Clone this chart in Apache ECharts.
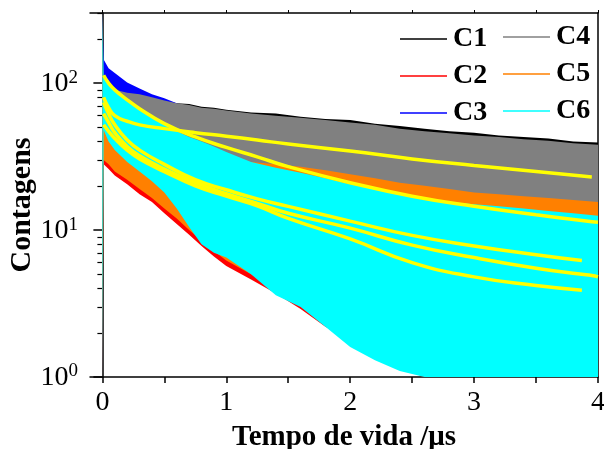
<!DOCTYPE html>
<html>
<head>
<meta charset="utf-8">
<script src="https://cdn.jsdelivr.net/npm/echarts@6/dist/echarts.min.js"></script>
<style>
  html, body { margin: 0; padding: 0; background: #fff; }
  #chart { width: 604px; height: 449px; }
</style>
</head>
<body>
<div id="chart"></div>
<script>
// time axis (µs) shared by the decay bands
var tempo = [0, 0.01, 0.05, 0.1, 0.2, 0.3, 0.4, 0.5, 0.6, 0.7, 0.8, 0.9, 1.0, 1.2, 1.4, 1.6, 1.8, 2.0, 2.2, 2.4, 2.6, 2.8, 3.0, 3.2, 3.4, 3.6, 3.8, 4.0];

// noisy counts drawn as upper / lower envelopes
var c1Alto  = [300, 100, 95, 90, 86, 84, 80, 76, 73, 72, 69, 68, 66, 63, 62, 59, 57, 56, 53, 51, 49, 47, 46, 44, 43, 42, 40, 39.5];
var c1Baixo = [1, 60, 55, 50, 45, 41, 38, 36, 34, 32, 31, 30, 29, 27, 25.5, 24, 22.5, 21, 20, 19, 18, 17, 16, 15, 14.5, 13.5, 12.5, 12];
var c2Alto  = [300, 45, 43, 40, 36, 33, 31, 29, 28, 27, 26, 25.5, 25, 24, 23, 22, 21, 20, 19, 18, 17, 16, 15.5, 15, 14.5, 14, 13.5, 13];
var c2Baixo = [1, 28, 26, 23.5, 20.5, 17.5, 15.5, 13, 11, 9.3, 7.8, 6.6, 5.7, 4.6, 3.7, 2.9, 2.2, 1.8, 1.45, 1.15, 1, 1, 1, 1, 1, 1, 1, 1];
var c3Alto  = [300, 145, 126, 117, 101, 92, 84, 79, 73, 64, 58, 54, 50, 44, 39, 35, 31, 28, 26, 24, 22, 21, 20, 19, 18.5, 18, 17.5, 17];
var c3Baixo = [1, 80, 72, 65, 55, 48, 42, 38, 34, 31, 28, 26, 24, 21, 18.5, 16.5, 15, 13.5, 12.5, 11.5, 10.5, 10, 9.5, 9, 8.5, 8, 7.6, 7.2];
var c4Alto  = [300, 100, 95, 90, 86, 84, 80, 76, 73, 71, 68, 67, 65, 62, 60, 58, 56, 54, 52, 49, 47, 45.5, 44, 43, 41.5, 40.5, 39, 38];
var c4Baixo = [1, 60, 55, 50, 45, 41, 38, 36, 34, 32, 31, 30, 29, 27, 25.5, 24, 22.5, 21, 20, 19, 18, 17, 16, 15, 14.5, 13.5, 12.5, 12];
var c5Alto  = [300, 55, 52, 48, 43, 40, 37.5, 35.5, 34, 33, 32, 31, 30, 29, 28, 27, 25.5, 24, 22.5, 21, 20, 19, 18, 17.5, 17, 16.5, 16, 15.5];
var c5Baixo = [1, 30, 28, 25, 22, 19, 16.5, 14, 12, 10, 8.5, 7.2, 6.2, 5, 4, 3.2, 2.5, 2, 1.6, 1.3, 1.1, 1, 1, 1, 1, 1, 1, 1];
var c6Alto  = [300, 110, 98, 88, 76, 66, 58, 52, 47, 43, 40, 37, 34, 29, 26.5, 24.5, 22.5, 20.5, 19, 17.5, 16, 15.5, 15, 14.5, 14, 13.5, 13, 12.5];
var c6Baixo = [1, 48, 40, 35, 29, 25, 21.5, 18, 14, 10.5, 8, 7, 6.5, 5, 3.6, 3, 2.2, 1.6, 1.3, 1.1, 1, 1, 1, 1, 1, 1, 1, 1];

// fitted decay curves (yellow)
var tempoAjuste = [0.01, 0.05, 0.1, 0.2, 0.3, 0.5, 0.75, 1.0, 1.25, 1.5, 2.0, 2.5, 3.0, 3.5, 3.87, 3.95, 4.0];
var ajuste1 = [80, 68, 60, 55, 52, 49, 46, 43.5, 41, 38.5, 34.5, 30.5, 27.5, 25, 23.3, 23, null];
var ajuste2 = [113, 100, 90, 77, 67, 53, 43, 36.5, 31.5, 27, 21, 17, 14.5, 12.7, 11.6, 11.4, 11.3];
var ajuste3 = [74, 62, 52, 41, 35, 28, 22, 18.8, 16.3, 14.5, 11.5, 9.2, 7.8, 6.8, 6.2, null, null];
var ajuste4 = [62, 54, 46, 37, 32, 26, 21, 17.7, 15.2, 13, 10.3, 7.9, 6.5, 5.5, 5.0, 4.9, 4.8];
var ajuste5 = [52, 47, 42, 35, 30.5, 25, 20, 17, 14.6, 12, 8.7, 6.0, 4.8, 4.2, 3.9, null, null];

var nomes = ['C1', 'C2', 'C3', 'C4', 'C5', 'C6'];
var cores = ['#000000', '#ff0000', '#0000ff', '#808080', '#ff8000', '#00ffff'];
var faixas = [[c1Baixo, c1Alto], [c2Baixo, c2Alto], [c3Baixo, c3Alto], [c4Baixo, c4Alto], [c5Baixo, c5Alto], [c6Baixo, c6Alto]];

var ticksX = [0, 1, 2, 3, 4];
var ticksXMenor = [0, 0.5, 1, 1.5, 2, 2.5, 3, 3.5, 4];
var ticksY = [1, 10, 100];
var ticksYMenor = [2, 3, 4, 5, 6, 7, 8, 9, 20, 30, 40, 50, 60, 70, 80, 90, 200, 300];

var serif = 'Liberation Serif';

// band = polygon between lower and upper envelope, placed with api.coord
function faixaRender(base, topo, cor) {
	return function (params, api) {
		if (params.dataIndex !== 0) return null;
		var pts = [];
		for (var k = 0; k < tempo.length; k++) pts.push(api.coord([tempo[k], topo[k]]));
		for (var j = tempo.length - 1; j >= 0; j--) pts.push(api.coord([tempo[j], base[j]]));
		return {
			type: 'polygon',
			shape: { points: pts },
			style: { fill: cor, stroke: null }
		};
	};
}

var series = [];
faixas.forEach(function (f, i) {
	series.push({
		name: nomes[i],
		type: 'custom',
		renderItem: faixaRender(f[0], f[1], cores[i]),
		data: tempo.map(function (t, k) { return [t, f[1][k]]; }),
		encode: { x: 0, y: 1 },
		clip: true,
		silent: true,
		color: cores[i]
	});
});
[ajuste1, ajuste2, ajuste3, ajuste4, ajuste5].forEach(function (a, i) {
	series.push({
		name: 'ajuste' + (i + 1),
		type: 'line',
		data: tempoAjuste.map(function (t, k) { return [t, a[k]]; }),
		showSymbol: false,
		smooth: true,
		lineStyle: { width: 3.5, color: '#ffff00' },
		silent: true
	});
});

var legendaBase = {
	orient: 'vertical',
	icon: 'rect',
	itemWidth: 47,
	itemHeight: 1.5,
	itemGap: 9,
	selectedMode: false,
	textStyle: { fontFamily: serif, fontWeight: 'bold', fontSize: 28, lineHeight: 28, color: '#000', padding: [0, 0, 0, 1] }
};

var chart = echarts.init(document.getElementById('chart'));
chart.setOption({
	animation: false,
	backgroundColor: '#fff',
	grid: { left: 90, right: 6, top: 13, bottom: 72, outerBoundsMode: 'none', containLabel: false },
	legend: [
		Object.assign({}, legendaBase, { data: ['C1', 'C2', 'C3'], left: 395, top: 20 }),
		Object.assign({}, legendaBase, { data: ['C4', 'C5', 'C6'], left: 498, top: 18 })
	],
	xAxis: [{
		type: 'value',
		min: -0.1,
		max: 4,
		name: 'Tempo de vida /μs',
		nameLocation: 'middle',
		nameGap: 46,
		nameTextStyle: { fontFamily: serif, fontWeight: 'bold', fontSize: 29, color: '#000' },
		axisLine: { lineStyle: { color: '#000', width: 1.5 } },
		axisTick: { customValues: ticksXMenor, length: 6, lineStyle: { color: '#000', width: 1.5 } },
		axisLabel: { customValues: ticksX, margin: 12, fontFamily: serif, fontSize: 28, color: '#000' },
		splitLine: { show: false }
	}, {
		type: 'value',
		position: 'top',
		min: -0.1,
		max: 4,
		axisLine: { lineStyle: { color: '#000', width: 1.5 } },
		axisTick: { customValues: ticksXMenor, length: 3, lineStyle: { color: '#000', width: 1 } },
		axisLabel: { show: false },
		splitLine: { show: false }
	}],
	yAxis: [{
		type: 'log',
		logBase: 10,
		min: 1,
		max: 300,
		name: 'Contagens',
		nameLocation: 'middle',
		nameRotate: 90,
		nameGap: 53,
		nameMoveOverlap: false,
		nameTextStyle: { fontFamily: serif, fontWeight: 'bold', fontSize: 30, color: '#000', padding: [0, 20, 0, 0] },
		axisLine: { show: true, lineStyle: { color: '#000', width: 1.5 } },
		axisTick: { show: true, customValues: ticksY, length: 9, lineStyle: { color: '#000', width: 1.5 } },
		axisLabel: {
			customValues: ticksY,
			margin: 12,
			formatter: function (v) {
				return '{b|10}{s|' + Math.round(Math.log10(v)) + '}';
			},
			rich: {
				b: { fontFamily: serif, fontSize: 28, color: '#000', lineHeight: 30, verticalAlign: 'bottom' },
				s: { fontFamily: serif, fontSize: 19, color: '#000', lineHeight: 30, verticalAlign: 'top' }
			}
		},
		splitLine: { show: false }
	}, {
		type: 'log',
		logBase: 10,
		min: 1,
		max: 300,
		position: 'left',
		axisLine: { show: false },
		axisTick: { show: true, customValues: ticksYMenor, length: 5, lineStyle: { color: '#000', width: 1.2 } },
		axisLabel: { show: false },
		splitLine: { show: false }
	}, {
		type: 'log',
		logBase: 10,
		min: 1,
		max: 300,
		position: 'right',
		axisLine: { show: true, lineStyle: { color: '#000', width: 1.5 } },
		axisTick: { show: false },
		axisLabel: { show: false },
		splitLine: { show: false }
	}],
	series: series
});
</script>
</body>
</html>
